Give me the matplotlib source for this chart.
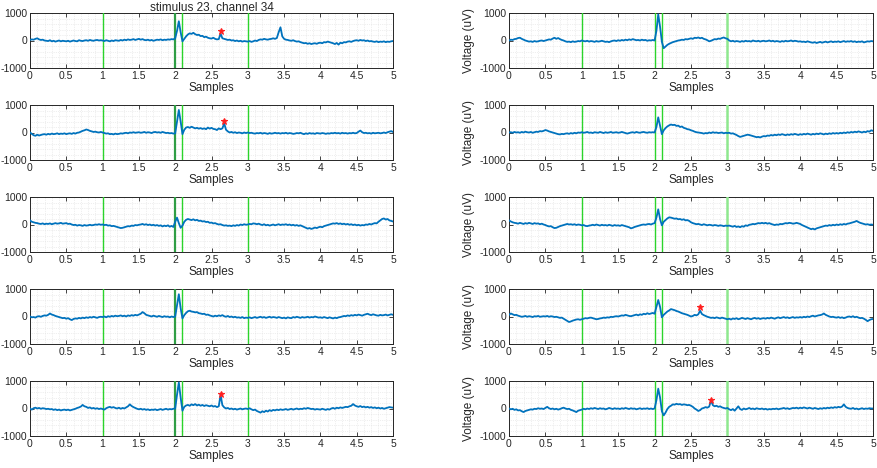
import numpy as np
import matplotlib
matplotlib.use("Agg")
import matplotlib.pyplot as plt
from matplotlib.ticker import MultipleLocator, FuncFormatter

plt.rcParams['font.family'] = ['Liberation Sans', 'DejaVu Sans']

# time axis (seconds), one value every 0.025
t = np.linspace(0, 5, 201)

# voltage traces (uV), 20 values per half second
left1 = [20, 40, 30, 60, 80, 40, 20, 30, 0, -10, -20, 10, -30, -10, -40, -20, 0, -30, -10, -20,
         -30, -10, -40, -20, 0, -20, -30, 10, -10, -20, 0, 10, -10, 20, 0, -10, 10, 20, 0, 10,
         0, -20, 10, -10, -30, 0, -20, 10, 0, -10, 20, 0, 30, 10, 40, 20, 30, 50, 20, 40,
         60, 30, 50, 20, 10, 30, 0, 20, -10, 10, 30, 20, 40, 10, 30, 20, 40, 30, 50, 40,
         80, 350, 700, 300, -30, 60, 150, 220, 260, 240, 280, 230, 200, 210, 160, 170, 120, 140, 100, 80,
         70, 100, 60, 40, 50, 250, 80, 60, 40, 20, 30, 0, 10, -20, 0, -30, -10, -40, -20, -30,
         -40, -20, -50, -30, 0, -20, 20, 40, 30, 60, 40, 30, 50, 60, 80, 60, 90, 300, 480, 150,
         60, 30, 20, 0, -10, 10, -20, -40, -30, -60, -80, -100, -90, -120, -100, -130, -110, -100, -120, -90,
         -80, -100, -60, -70, -40, -60, -80, -100, -130, -90, -150, -80, -100, -60, -70, -40, -30, -50, -20, 0,
         10, -10, 20, 0, 10, -20, 0, -30, -20, -40, -50, -30, -60, -40, -50, -30, -60, -40, -50, -30,
         -20]
left2 = [0, -50, -100, -120, -80, -110, -90, -70, -60, -80, -50, -70, -40, -60, -50, -30, -60, -40, -50, -30,
         -60, -40, -30, -50, -20, -40, -10, 0, 30, 60, 80, 110, 90, 60, 40, 20, 30, 10, 0, 20,
         0, -20, -40, -30, -60, -50, -70, -40, -60, -50, -30, -40, -20, -10, -30, 0, -10, 10, -10, 0,
         10, -10, 0, 20, -10, 10, 0, -20, 10, 20, 0, 10, -10, 20, 0, -20, -10, -30, -20, -40,
         -30, 400, 820, 400, -60, 100, 180, 200, 170, 210, 180, 150, 170, 140, 160, 130, 150, 120, 180, 140,
         170, 130, 120, 90, 150, 120, 150, 330, 100, 40, 0, 20, -10, 10, -20, 0, -10, -30, 0, -20,
         0, -20, -10, -30, -40, -20, -30, -10, -40, -20, -30, -50, -20, -40, -30, -10, -30, -20, -40, -20,
         -30, -10, -40, -20, -30, -50, -40, -20, -30, -10, -40, -60, -30, -50, -20, -40, -30, -50, -20, -30,
         -40, -20, -30, -50, -30, -40, -20, -30, -10, -30, -20, -40, -10, -30, -20, -40, -20, -30, -10, -30,
         -20, 30, 70, 10, -20, -10, -30, -20, -40, -10, -30, -20, -10, -30, -20, 0, -20, 10, 30, 50,
         20]
left3 = [150, 100, 80, 60, 50, 30, 20, 40, 10, 30, 20, 40, 10, 30, 50, 30, 40, 60, 30, 40,
         50, 20, 30, 0, -20, -10, -40, -20, -30, -50, -20, -40, -30, -10, -30, -20, 0, -10, 10, -10,
         0, -20, -10, -40, -30, -60, -50, -70, -90, -110, -130, -120, -100, -80, -60, -70, -40, -50, -20, -30,
         -10, 0, 20, -10, 10, -20, 0, -30, -10, -40, -20, -50, -30, -70, -40, -60, -30, -80, -50, -90,
         100, 250, 50, -120, -40, 100, 170, 200, 180, 160, 190, 150, 170, 130, 140, 110, 120, 90, 100, 60,
         70, 40, 50, 20, 0, 10, -20, -40, -30, -50, -40, -60, -30, -50, -20, -40, 0, -20, 10, -10,
         0, 20, 10, 40, 30, 10, 30, 0, -20, 10, -30, -10, -40, -20, 0, -30, -10, 10, -20, 0,
         -10, 10, -20, 0, -30, -10, -40, -20, -50, -30, -60, -90, -120, -150, -130, -160, -140, -110, -130, -100,
         -80, -100, -60, -40, -20, 0, 20, 40, 30, 50, 20, 40, 10, 30, 0, 20, -10, 10, -20, 0,
         -30, -10, -40, -20, -30, 0, -10, 20, 0, 30, 50, 40, 100, 150, 200, 220, 180, 200, 150, 130,
         110]
left4 = [0, -30, -20, -40, 0, 10, -10, 20, 40, 30, 60, 110, 70, 50, 20, 0, -20, -40, -60, -50,
         -80, -60, -100, -130, -90, -70, -80, -50, -70, -40, -60, -30, -50, -20, -40, -10, -30, -50, -20, -10,
         -20, 0, -30, 10, -10, 20, 0, 30, 10, 20, 40, 10, 30, 0, 40, 20, 50, 30, 60, 40,
         70, 100, 160, 120, 60, 40, 20, 0, 30, 10, -10, 20, 0, -20, 10, -10, 0, -30, 0, -20,
         0, 400, 810, 300, -70, 50, 130, 190, 210, 180, 170, 150, 160, 120, 110, 90, 100, 60, 70, 40,
         20, 0, 30, 10, 40, 20, 50, 10, -10, 20, -20, 0, -30, -10, -40, -30, -50, -20, -60, -40,
         -50, -30, -60, -40, -20, -50, -30, -10, -40, -20, -50, -30, -10, -40, -20, -30, -50, -20, -40, -60,
         -40, -70, -30, -50, -60, -20, -40, -10, -30, -50, -20, -40, -30, -10, -40, -20, -30, 0, -20, -40,
         -30, -50, -20, -40, -60, -30, -50, -70, -40, -60, -30, -20, 0, 20, 10, 40, 20, 50, 30, 60,
         40, 70, 50, 30, 60, 80, 100, 70, 50, 80, 60, 40, 30, 60, 40, 50, 70, 40, 60, 80,
         60]
left5 = [0, -40, 10, 30, 0, 20, -10, 10, 0, -20, -10, -30, -20, -50, -30, -60, -40, -70, -50, -40,
         -60, -40, -70, -50, -30, -10, 20, 40, 70, 130, 80, 60, 20, 40, 0, 20, -10, 10, -20, 0,
         -20, -40, 10, 40, 60, 30, 50, 20, 0, 30, -10, 20, 0, 40, 80, 150, 90, 50, 20, -10,
         -30, -10, -40, -20, -50, -30, -60, -40, -50, -30, -60, -40, -20, -50, -30, -10, -40, -20, -30, -10,
         0, 500, 950, 400, -80, 60, 110, 130, 100, 150, 120, 160, 110, 140, 100, 130, 90, 120, 100, 80,
         110, 70, 90, 50, 80, 500, 120, 40, 0, 20, -20, 0, -30, -10, -40, -20, 0, -30, -10, 0,
         -20, 10, -30, -60, -40, -90, -120, -150, -100, -130, -80, -110, -60, -90, -50, -70, -40, -60, -30, -50,
         -40, -20, -50, -30, -10, -40, -20, 0, -30, -10, -20, 10, -10, 20, 0, -20, -10, -40, -20, -30,
         -40, -10, -30, -50, -20, -40, 0, 20, -10, 30, 10, 40, 20, 40, 60, 50, 80, 100, 160, 110,
         80, 60, 90, 50, 70, 40, 60, 30, 50, 20, 40, 10, 30, 0, 20, -10, 10, 30, 50, 40,
         30]
right1 = [0, 30, 20, 50, 60, 90, 100, 60, 30, 0, -20, -40, -30, -50, -20, -40, -30, -10, 0, -20,
          0, 20, 40, 30, 70, 100, 60, 90, 50, 20, 0, -30, -50, -40, -60, -30, -50, -40, -20, -30,
          0, -20, -30, -10, -40, -20, -30, -50, -20, -40, -30, -10, -30, -50, -40, -60, -30, -10, 0, -20,
          10, -10, 20, 0, 30, 10, 40, 20, 50, 30, 10, 20, 0, 30, 10, 20, -10, 10, 0, 20,
          0, 350, 950, 500, -50, -280, -220, -160, -120, -90, -60, -40, -20, 0, 10, 30, 20, 50, 40, 60,
          80, 60, 100, 90, 110, 80, 100, 60, 40, 10, -30, -10, 20, 50, 40, 70, 60, 90, 110, 80,
          60, 0, -30, -10, -40, -20, -30, -50, -20, -40, -10, -30, -20, -40, 0, -20, -30, -10, -40, -20,
          -10, -30, -20, 0, -30, -10, -40, -20, -30, -50, -20, -40, -10, -30, -20, 0, -30, -10, -20, -40,
          -30, -50, -40, -60, -30, -50, -70, -80, -60, -90, -70, -50, -80, -60, -40, -70, -50, -30, -60, -40,
          -50, -30, -60, -40, -20, -50, -30, -40, -20, -50, -30, -60, -40, -50, -30, -70, -50, -30, -40, -20,
          -30]
right2 = [0, 10, -10, 20, 0, 10, -10, 20, 0, 30, 10, 0, 20, -10, 10, 30, 20, 50, 40, 60,
          90, 70, 40, 20, 0, -20, -40, -60, -70, -50, -60, -40, -30, -50, -20, -40, -10, -30, 0, -10,
          10, -10, 0, 20, -10, 0, -20, 10, 0, -10, 20, 0, -20, 10, -10, 0, 20, -10, 0, 10,
          -10, 0, 20, 0, -20, -40, -20, 0, 10, -10, 20, 0, -10, 10, 20, 0, -10, 10, 0, 10,
          0, 200, 550, 250, -60, 80, 160, 220, 260, 290, 270, 280, 240, 250, 200, 220, 170, 150, 120, 110,
          80, 60, 30, 10, 0, -10, -20, -40, -20, -30, 0, -20, 10, -10, 0, -20, -10, 0, -30, -10,
          -20, -10, -40, -30, -60, -90, -130, -160, -140, -120, -100, -80, -90, -110, -130, -150, -170, -160, -180, -150,
          -130, -140, -110, -120, -90, -110, -80, -100, -70, -90, -60, -80, -100, -70, -90, -60, -80, -50, -70, -90,
          -60, -80, -50, -70, -40, -60, -80, -50, -70, -40, -60, -30, -50, -70, -40, -60, -30, -50, -20, -40,
          -20, -40, -10, -30, 0, -20, 10, -10, 20, 0, 30, 10, 40, 20, 0, 30, 10, 50, 30, 80,
          60]
right3 = [150, 110, 80, 60, 50, 30, 60, 40, 20, 50, 30, 60, 40, 20, 50, 30, 40, 10, 30, 0,
          -20, -50, -70, -60, -100, -130, -120, -90, -60, -40, -20, 0, 20, 0, 10, -10, 10, -20, 0, -10,
          -30, -20, -50, -60, -40, -30, -10, -30, 0, -20, -40, -10, -30, -20, -40, -10, -30, -50, -20, -40,
          -30, -50, -20, -40, -60, -80, -100, -140, -120, -90, -70, -50, -30, -10, 0, -10, 10, 20, 0, 30,
          50, 250, 550, 200, -30, 100, 160, 220, 260, 250, 230, 210, 220, 190, 200, 170, 190, 150, 160, 130,
          80, 50, 30, 10, 20, 0, -20, 10, -10, -30, -10, -20, -40, -20, -30, -50, -30, -40, -60, -40,
          -50, -40, -60, -80, -50, -90, -70, -100, -60, -80, -30, -50, -10, 0, 20, 10, 30, 50, 40, 60,
          40, 60, 30, 50, 20, 0, -20, 0, -10, 20, 10, 30, 50, 40, 60, 50, 30, 40, 60, 40,
          20, -20, -50, -80, -110, -140, -170, -150, -180, -140, -120, -100, -80, -60, -40, -50, -20, -40, -10, -30,
          0, -20, 10, -10, 20, 0, 30, 40, 60, 80, 100, 130, 90, 60, 40, 20, 0, 10, -10, 0,
          -10]
right4 = [60, 110, 80, 50, 60, 30, 10, -10, 0, 20, -10, 10, 0, -20, 10, 0, 20, -10, 0, 10,
          0, 20, -10, 10, 0, -20, -10, -30, -50, -40, -80, -120, -160, -200, -180, -150, -130, -110, -100, -120,
          -100, -80, -60, -70, -50, -40, -60, -80, -100, -90, -70, -60, -40, -50, -30, -40, -10, -20, 0, 10,
          0, 20, 40, 30, 60, 40, 20, 10, 30, 50, 70, 40, 80, 60, 100, 80, 120, 90, 110, 130,
          100, 350, 600, 350, -30, 60, 120, 180, 220, 270, 250, 230, 200, 180, 150, 120, 100, 80, 60, 30,
          0, 20, 60, 40, 80, 210, 90, 50, 20, -10, -30, -50, -40, -60, -30, -50, -70, -40, -60, -80,
          -100, -80, -110, -70, -90, -60, -100, -80, -50, -70, -90, -60, -80, -100, -70, -50, -80, -60, -90, -70,
          -60, -80, -50, -70, -40, -60, -80, -50, -30, -60, -40, -20, -50, -30, -60, -40, -20, -50, -30, -40,
          -20, -40, -10, -30, 0, -20, 10, 30, 0, 20, 40, 50, 70, 110, 60, 30, 0, -20, -10, -30,
          -40, -20, -50, -30, -60, -40, -10, 0, -20, 10, -30, -10, -40, -60, -50, -80, -120, -170, -130, -100,
          -90]
right5 = [0, -30, -10, -50, -30, -70, -60, -100, -130, -90, -70, -50, -30, -40, -10, -20, 10, -10, 0, -20,
          20, 60, 10, -20, 0, -30, -10, -40, -20, 10, 30, 0, -20, -10, -50, -70, -100, -130, -80, -60,
          -40, -10, -30, 0, -20, 10, -10, 20, 0, -20, 10, -10, 0, -30, -10, 20, 0, -20, 10, -10,
          0, -20, 10, -10, 20, 0, -20, 10, -10, 0, -30, -10, 10, -20, 0, -10, 10, -20, 0, -20,
          0, 300, 720, 400, -100, -250, -150, -20, 60, 100, 150, 140, 170, 150, 160, 130, 150, 140, 120, 130,
          100, 60, 0, -40, -90, -60, 0, 20, 50, 30, 70, 290, 120, 80, 100, 60, 80, 40, 20, 0,
          20, -30, -60, -20, -80, 0, 80, -20, -50, 0, -30, -10, 20, -20, 0, -30, 10, -10, -20, 0,
          -30, -10, -40, -20, -30, -10, -20, 0, -30, -10, 0, 20, -10, 10, -20, 0, 20, 10, 30, 0,
          30, 10, 40, 20, 0, 30, 10, -10, 20, 0, -20, 10, -10, 20, 0, 30, 10, 40, 20, 50,
          30, 60, 40, 70, 150, 60, 20, 0, -10, 20, -20, 0, -30, -10, 10, -20, 0, -10, 10, 0,
          0]

# detected peaks (red asterisks), nan = none in that panel
star_t_left = [2.625, 2.675, np.nan, np.nan, 2.625]
star_v_left = [340, 430, np.nan, np.nan, 540]
star_t_right = [np.nan, np.nan, np.nan, 2.625, 2.775]
star_v_right = [np.nan, np.nan, np.nan, 355, 310]

# event markers (green vertical lines)
events = [1.0, 2.0, 2.1, 3.0]

title = 'stimulus 23, channel 34'

fig = plt.figure(figsize=(8.78, 4.68), dpi=100)
W, H = 878.0, 468.0
tops = [13, 105, 197, 289, 381]
ax_h = 55
col_x = [(30, 363), (509, 364)]
txt = '#262626'
green = '#2bd42b'

columns = [([left1, left2, left3, left4, left5], star_t_left, star_v_left),
           ([right1, right2, right3, right4, right5], star_t_right, star_v_right)]

for c, (traces, st, sv) in enumerate(columns):
    x0, w = col_x[c]
    for r in range(5):
        assert len(traces[r]) == len(t)
        ax = fig.add_axes([x0 / W, 1 - (tops[r] + ax_h) / H, w / W, ax_h / H])
        for e in events:
            col = green
            lw = 1.0
            # the onset line on the left is drawn twice, so it looks darker
            if c == 0 and e == 2.0:
                col, lw = '#2f9e45', 1.6
            if c == 1 and e == 3.0:
                col, lw = '#8ee88e', 1.8
            ax.axvline(e, color=col, lw=lw, zorder=3)
        ax.plot(t, traces[r], color='#0072BD', lw=1.3, zorder=4)
        if not np.isnan(st[r]):
            ax.plot(st[r], sv[r], '*', color='#ff2020', ms=4.5, mew=0.8, zorder=5)
        ax.set_xlim(0, 5)
        ax.set_ylim(-1000, 1000)
        ax.xaxis.set_major_locator(MultipleLocator(0.5))
        ax.xaxis.set_minor_locator(MultipleLocator(0.1))
        ax.yaxis.set_major_locator(MultipleLocator(1000))
        ax.yaxis.set_minor_locator(MultipleLocator(200))
        ax.xaxis.set_major_formatter(FuncFormatter(lambda v, p: '%g' % v))
        ax.yaxis.set_major_formatter(FuncFormatter(lambda v, p: '%g' % v))
        ax.grid(True, which='major', color='#e3e3e3', lw=0.5, ls=':')
        ax.grid(True, which='minor', color='#e0e0e0', lw=0.5, ls=':')
        ax.tick_params(which='major', direction='in', length=3, width=0.6, top=True, right=True,
                       labelsize=7.5, colors=txt, pad=2)
        ax.tick_params(which='minor', length=0)
        for s in ax.spines.values():
            s.set_color(txt)
            s.set_linewidth(0.7)
        ax.set_xlabel('Samples', fontsize=8.5, color=txt, labelpad=1)
        # left column label sits mostly outside the figure, as in the source
        ax.set_ylabel('Voltage (uV)', fontsize=8.5, color=txt, labelpad=3)
        if c == 0 and r == 0:
            ax.set_title(title, fontsize=8.5, color=txt, pad=2)

fig.savefig('out.png', dpi=100)
